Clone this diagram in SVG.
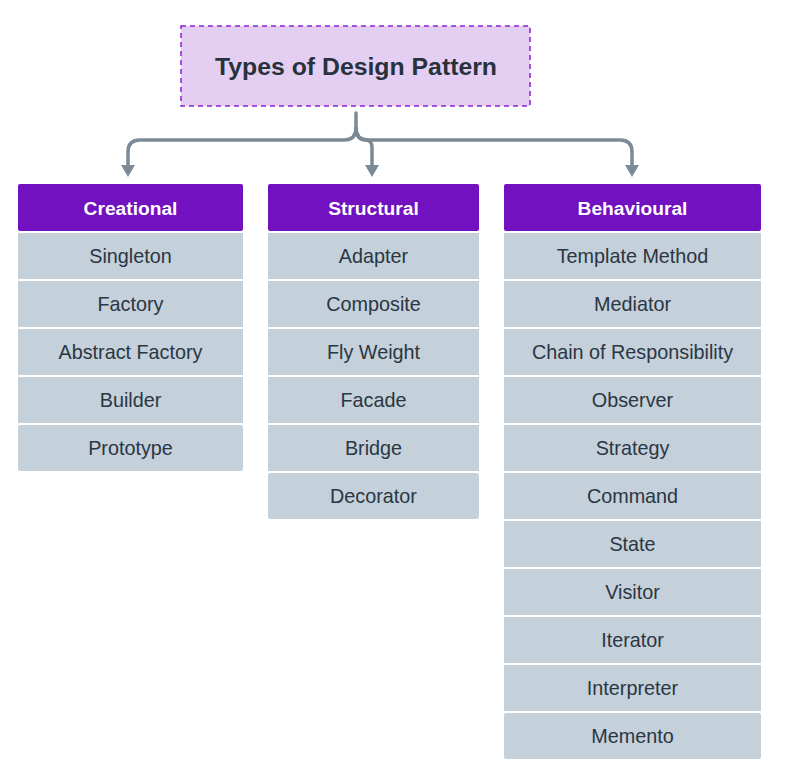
<svg xmlns="http://www.w3.org/2000/svg" width="788" height="769" viewBox="0 0 788 769">
<style>
.hdr{fill:#7211c0;}
.row{fill:#c4d0da;}
.ht{font-family:"Liberation Sans",Arial,sans-serif;font-size:19.2px;font-weight:bold;fill:#ffffff;text-anchor:middle;}
.rt{font-family:"Liberation Sans",Arial,sans-serif;font-size:19.8px;fill:#2b3643;text-anchor:middle;}
.conn{fill:none;stroke:#7b8a96;stroke-width:3.5;stroke-linecap:round;}
.ah{fill:#7b8a96;}
</style>
<rect width="788" height="769" fill="#ffffff"/>
<g id="title">
<rect x="181" y="26" width="349" height="80" fill="#e4cff3" stroke="#8a1fd6" stroke-width="1.5" stroke-dasharray="5,4"/>
<text x="356" y="75" style="font-family:'Liberation Sans',Arial,sans-serif;font-size:24.8px;font-weight:bold;fill:#27323d;text-anchor:middle;">Types of Design Pattern</text>
</g>
<g id="connectors">
<path class="conn" d="M356,113 V128 Q356,140 344,140 H140 Q128,140 128,152 V167"/>
<path class="conn" d="M356,128 Q356,140 366,140 Q372,140 372,148 V167"/>
<path class="conn" d="M356,128 Q356,140 368,140 H620 Q632,140 632,152 V167"/>
<polygon class="ah" points="121,165 135,165 128,177"/>
<polygon class="ah" points="365,165 379,165 372,177"/>
<polygon class="ah" points="625,165 639,165 632,177"/>
</g>
<g id="creational">
<rect class="hdr" x="18" y="184" width="225" height="47" rx="2"/>
<text class="ht" x="130.5" y="214.5">Creational</text>
<rect class="row" x="18" y="233" width="225" height="46"/><text class="rt" x="130.5" y="263">Singleton</text>
<rect class="row" x="18" y="281" width="225" height="46"/><text class="rt" x="130.5" y="311">Factory</text>
<rect class="row" x="18" y="329" width="225" height="46"/><text class="rt" x="130.5" y="359">Abstract Factory</text>
<rect class="row" x="18" y="377" width="225" height="46"/><text class="rt" x="130.5" y="407">Builder</text>
<rect class="row" x="18" y="425" width="225" height="46" rx="2"/><text class="rt" x="130.5" y="455">Prototype</text>
</g>
<g id="structural">
<rect class="hdr" x="268" y="184" width="211" height="47" rx="2"/>
<text class="ht" x="373.5" y="214.5">Structural</text>
<rect class="row" x="268" y="233" width="211" height="46"/><text class="rt" x="373.5" y="263">Adapter</text>
<rect class="row" x="268" y="281" width="211" height="46"/><text class="rt" x="373.5" y="311">Composite</text>
<rect class="row" x="268" y="329" width="211" height="46"/><text class="rt" x="373.5" y="359">Fly Weight</text>
<rect class="row" x="268" y="377" width="211" height="46"/><text class="rt" x="373.5" y="407">Facade</text>
<rect class="row" x="268" y="425" width="211" height="46"/><text class="rt" x="373.5" y="455">Bridge</text>
<rect class="row" x="268" y="473" width="211" height="46" rx="2"/><text class="rt" x="373.5" y="503">Decorator</text>
</g>
<g id="behavioural">
<rect class="hdr" x="504" y="184" width="257" height="47" rx="2"/>
<text class="ht" x="632.5" y="214.5">Behavioural</text>
<rect class="row" x="504" y="233" width="257" height="46"/><text class="rt" x="632.5" y="263">Template Method</text>
<rect class="row" x="504" y="281" width="257" height="46"/><text class="rt" x="632.5" y="311">Mediator</text>
<rect class="row" x="504" y="329" width="257" height="46"/><text class="rt" x="632.5" y="359">Chain of Responsibility</text>
<rect class="row" x="504" y="377" width="257" height="46"/><text class="rt" x="632.5" y="407">Observer</text>
<rect class="row" x="504" y="425" width="257" height="46"/><text class="rt" x="632.5" y="455">Strategy</text>
<rect class="row" x="504" y="473" width="257" height="46"/><text class="rt" x="632.5" y="503">Command</text>
<rect class="row" x="504" y="521" width="257" height="46"/><text class="rt" x="632.5" y="551">State</text>
<rect class="row" x="504" y="569" width="257" height="46"/><text class="rt" x="632.5" y="599">Visitor</text>
<rect class="row" x="504" y="617" width="257" height="46"/><text class="rt" x="632.5" y="647">Iterator</text>
<rect class="row" x="504" y="665" width="257" height="46"/><text class="rt" x="632.5" y="695">Interpreter</text>
<rect class="row" x="504" y="713" width="257" height="46" rx="2"/><text class="rt" x="632.5" y="743">Memento</text>
</g>
</svg>
